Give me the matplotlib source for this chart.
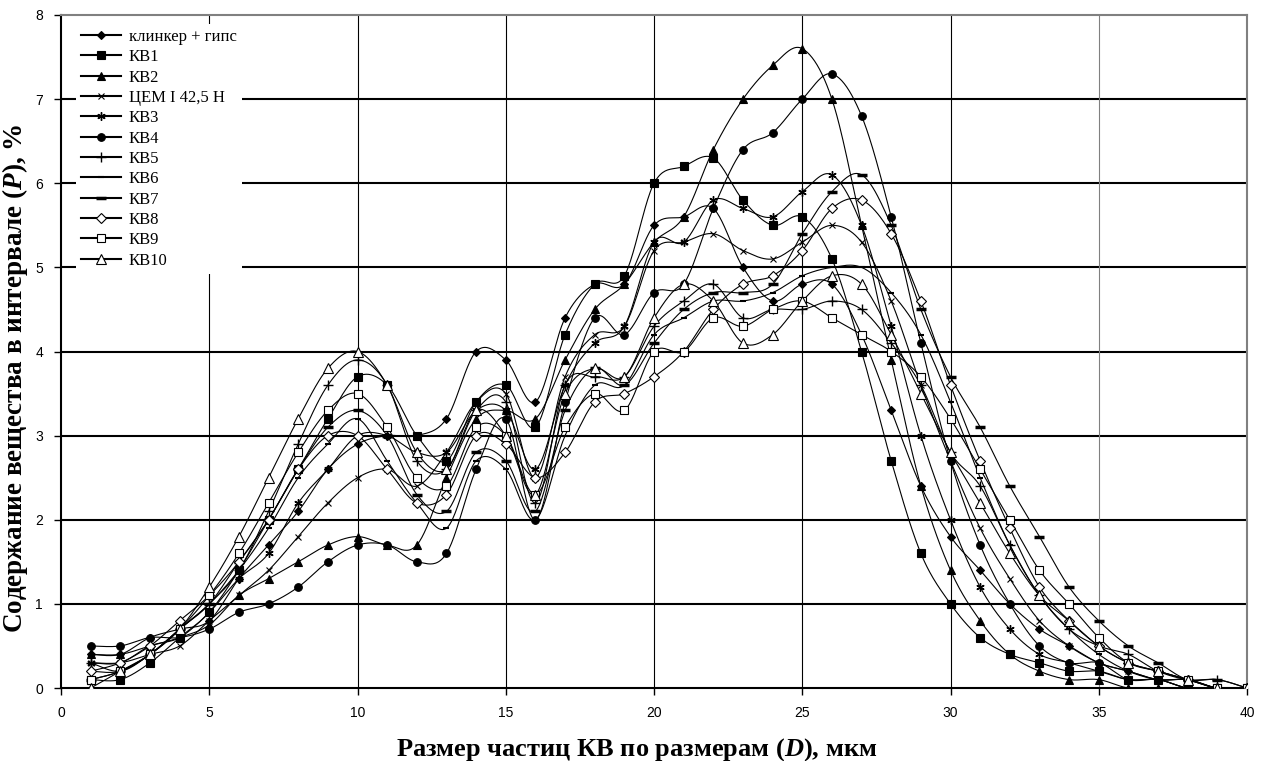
import numpy as np
import matplotlib.pyplot as plt
from matplotlib.lines import Line2D

plt.rcParams['font.family'] = ['Liberation Serif', 'DejaVu Serif']
plt.rcParams['mathtext.fontset'] = 'custom'
plt.rcParams['mathtext.it'] = 'Liberation Serif:italic:bold'
plt.rcParams['mathtext.rm'] = 'Liberation Serif:bold'

# particle size, um
sizes = list(range(1, 41))

labels = ["клинкер + гипс", "КВ1", "КВ2", "ЦЕМ I 42,5 Н", "КВ3", "КВ4",
          "КВ5", "КВ6", "КВ7", "КВ8", "КВ9", "КВ10"]

klinker = [0.4, 0.4, 0.6, 0.7, 0.8, 1.3, 1.7, 2.1, 2.6, 2.9, 3.0, 3.0, 3.2, 4.0, 3.9, 3.4, 4.4, 4.8, 4.8, 5.5,
           5.6, 5.7, 5.0, 4.6, 4.8, 4.8, 4.2, 3.3, 2.4, 1.8, 1.4, 1.0, 0.7, 0.5, 0.3, 0.2, 0.1, 0.1, 0.0, 0.0]
kv1 = [0.1, 0.1, 0.3, 0.6, 0.9, 1.4, 2.0, 2.6, 3.2, 3.7, 3.6, 3.0, 2.7, 3.4, 3.6, 3.1, 4.2, 4.8, 4.9, 6.0,
       6.2, 6.3, 5.8, 5.5, 5.6, 5.1, 4.0, 2.7, 1.6, 1.0, 0.6, 0.4, 0.3, 0.2, 0.2, 0.1, 0.1, 0.0, 0.0, 0.0]
kv2 = [0.4, 0.4, 0.5, 0.6, 0.75, 1.1, 1.3, 1.5, 1.7, 1.8, 1.7, 1.7, 2.5, 3.2, 3.3, 3.2, 3.9, 4.5, 4.8, 5.3,
       5.6, 6.4, 7.0, 7.4, 7.6, 7.0, 5.5, 3.9, 2.4, 1.4, 0.8, 0.4, 0.2, 0.1, 0.1, 0.0, 0.0, 0.0, 0.0, 0.0]
cem = [0.3, 0.3, 0.4, 0.5, 0.8, 1.1, 1.4, 1.8, 2.2, 2.5, 2.6, 2.4, 2.8, 3.4, 3.5, 2.5, 3.7, 4.2, 4.3, 5.2,
       5.3, 5.4, 5.2, 5.1, 5.3, 5.5, 5.3, 4.6, 3.6, 2.7, 1.9, 1.3, 0.8, 0.5, 0.3, 0.2, 0.1, 0.1, 0.0, 0.0]
kv3 = [0.3, 0.3, 0.5, 0.6, 0.9, 1.3, 1.6, 2.2, 2.6, 3.0, 3.0, 2.8, 2.8, 3.3, 3.3, 2.6, 3.6, 4.1, 4.3, 5.3,
       5.3, 5.8, 5.7, 5.6, 5.9, 6.1, 5.5, 4.3, 3.0, 2.0, 1.2, 0.7, 0.4, 0.3, 0.2, 0.1, 0.1, 0.0, 0.0, 0.0]
kv4 = [0.5, 0.5, 0.6, 0.6, 0.7, 0.9, 1.0, 1.2, 1.5, 1.7, 1.7, 1.5, 1.6, 2.6, 3.2, 2.0, 3.4, 4.4, 4.2, 4.7,
       4.8, 5.7, 6.4, 6.6, 7.0, 7.3, 6.8, 5.6, 4.1, 2.7, 1.7, 1.0, 0.5, 0.3, 0.3, 0.1, 0.1, 0.0, 0.0, 0.0]
kv5 = [0.3, 0.2, 0.4, 0.7, 1.0, 1.4, 2.1, 2.9, 3.6, 3.9, 3.6, 2.7, 2.6, 3.3, 3.4, 2.2, 3.6, 3.7, 3.7, 4.3,
       4.6, 4.8, 4.4, 4.5, 4.5, 4.6, 4.5, 4.1, 3.6, 2.8, 2.4, 1.7, 1.1, 0.7, 0.5, 0.4, 0.2, 0.1, 0.1, 0.0]
kv6 = [0.2, 0.2, 0.4, 0.7, 1.0, 1.4, 1.9, 2.5, 2.9, 3.2, 2.7, 2.2, 1.9, 2.7, 2.6, 2.0, 3.0, 3.6, 3.6, 4.2,
       4.4, 4.6, 4.6, 4.7, 4.9, 5.0, 5.0, 4.7, 4.2, 3.4, 2.5, 1.7, 1.1, 0.7, 0.4, 0.2, 0.1, 0.1, 0.0, 0.0]
kv7 = [0.1, 0.2, 0.4, 0.7, 1.0, 1.5, 2.0, 2.6, 3.1, 3.3, 3.0, 2.3, 2.1, 2.8, 2.7, 2.1, 3.3, 3.8, 3.6, 4.1,
       4.5, 4.7, 4.7, 4.8, 5.4, 5.9, 6.1, 5.5, 4.5, 3.7, 3.1, 2.4, 1.8, 1.2, 0.8, 0.5, 0.3, 0.1, 0.1, 0.0]
kv8 = [0.2, 0.3, 0.5, 0.8, 1.1, 1.5, 2.0, 2.6, 3.0, 3.0, 2.6, 2.2, 2.3, 3.0, 2.9, 2.5, 2.8, 3.4, 3.5, 3.7,
       4.0, 4.5, 4.8, 4.9, 5.2, 5.7, 5.8, 5.4, 4.6, 3.6, 2.7, 1.9, 1.2, 0.8, 0.5, 0.3, 0.2, 0.1, 0.0, 0.0]
kv9 = [0.1, 0.2, 0.4, 0.7, 1.1, 1.6, 2.2, 2.8, 3.3, 3.5, 3.1, 2.5, 2.4, 3.1, 3.0, 2.3, 3.1, 3.5, 3.3, 4.0,
       4.0, 4.4, 4.3, 4.5, 4.6, 4.4, 4.2, 4.0, 3.7, 3.2, 2.6, 2.0, 1.4, 1.0, 0.6, 0.3, 0.2, 0.1, 0.0, 0.0]
kv10 = [0.0, 0.2, 0.4, 0.7, 1.2, 1.8, 2.5, 3.2, 3.8, 4.0, 3.6, 2.8, 2.6, 3.3, 3.0, 2.3, 3.5, 3.8, 3.7, 4.4,
        4.8, 4.6, 4.1, 4.2, 4.6, 4.9, 4.8, 4.2, 3.5, 2.8, 2.2, 1.6, 1.1, 0.8, 0.5, 0.3, 0.2, 0.1, 0.0, 0.0]

series = [klinker, kv1, kv2, cem, kv3, kv4, kv5, kv6, kv7, kv8, kv9, kv10]

# marker style per series: (marker, size, face, edge width)
styles = [
    ('D', 4.5, 'black', 0.8),
    ('s', 5.5, 'black', 0.8),
    ('^', 6, 'black', 0.8),
    ('x', 5, 'black', 0.8),
    ((6, 2, 0), 6, 'black', 1.0),
    ('o', 5.5, 'black', 0.8),
    ('+', 7, 'black', 1.0),
    ('_', 5, 'black', 1.5),
    ('_', 7, 'black', 2.5),
    ('D', 5, 'white', 0.8),
    ('s', 6, 'white', 0.8),
    ('^', 6.5, 'white', 0.8),
]


def smooth_line(x, y, n=24):
    # excel-like smoothed line (bezier through points, catmull-rom control points)
    P = np.column_stack([x, y]).astype(float)
    m = len(P)
    out = []
    for i in range(m - 1):
        p0 = P[i - 1] if i > 0 else P[i]
        p1, p2 = P[i], P[i + 1]
        p3 = P[i + 2] if i + 2 < m else P[i + 1]
        c1 = p1 + (p2 - p0) / 6
        c2 = p2 - (p3 - p1) / 6
        t = np.linspace(0, 1, n, endpoint=(i == m - 2))[:, None]
        b = (1 - t) ** 3 * p1 + 3 * (1 - t) ** 2 * t * c1 + 3 * (1 - t) * t ** 2 * c2 + t ** 3 * p2
        out.append(b)
    out = np.vstack(out)
    return out[:, 0], out[:, 1]


fig = plt.figure(figsize=(12.61, 7.61), dpi=100)
ax = fig.add_axes([0.0484, 0.0959, 0.9405, 0.8844])

# grid
for yv in range(1, 8):
    ax.axhline(yv, color='black', lw=1.5, zorder=1)
for xv in [5, 10, 15, 20, 25, 30]:
    ax.axvline(xv, color='black', lw=0.8, zorder=1)
ax.axvline(35, color='#808080', lw=0.8, zorder=1)

handles = []
for vals, lab, (mk, ms, fc, mew) in zip(series, labels, styles):
    sx, sy = smooth_line(sizes, vals)
    ax.plot(sx, sy, color='black', lw=0.8, zorder=2)
    ax.plot(sizes, vals, ls='none', marker=mk, ms=ms, mfc=fc, mec='black', mew=mew, zorder=3)
    handles.append(Line2D([], [], color='black', lw=1.5, marker=mk, ms=ms, mfc=fc,
                          mec='black', mew=mew))

ax.set_xlim(0, 40)
ax.set_ylim(0, 8)
ax.set_xticks(range(0, 41, 5))
ax.set_yticks(range(0, 9))
ax.tick_params(direction='out', length=5, width=1, labelsize=10, pad=8)
for t in ax.get_xticklabels() + ax.get_yticklabels():
    t.set_family(['Liberation Sans', 'DejaVu Sans'])

for s in ['left', 'bottom']:
    ax.spines[s].set_linewidth(1.5)
for s in ['top', 'right']:
    ax.spines[s].set_color('#808080')
    ax.spines[s].set_linewidth(1.5)

ax.set_xlabel("Размер частиц КВ по размерам ($D$), мкм", fontsize=19, fontweight='bold')
ax.set_ylabel("Содержание вещества в интервале ($P$), %", fontsize=19.5, fontweight='bold')
ax.xaxis.set_label_coords(0.485, -0.071)
ax.yaxis.set_label_coords(-0.026, 0.46)

leg = ax.legend(handles, labels, loc='upper left', bbox_to_anchor=(0.006, 0.999), fontsize=12,
                frameon=True, fancybox=False, edgecolor='none', facecolor='white', framealpha=1,
                handlelength=2.4, handletextpad=0.45, labelspacing=0.26, borderpad=0.3)
leg.set_zorder(2.2)

fig.savefig('out.png', dpi=100)
